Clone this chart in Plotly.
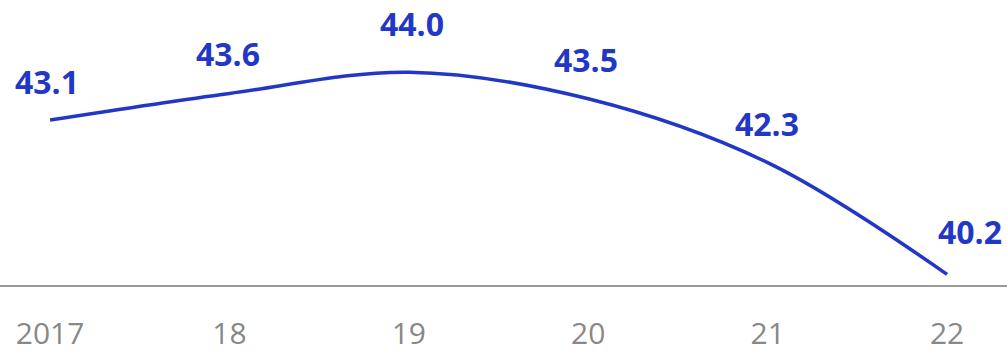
import plotly.graph_objects as go

years = [2017, 2018, 2019, 2020, 2021, 2022]
tick_labels = ["2017", "18", "19", "20", "21", "22"]
values = [43.1, 43.6, 44.0, 43.5, 42.3, 40.2]
label_text = ["43.1", "43.6", "44.0", "43.5", "42.3", "40.2"]

# label placement offsets (pixels) - styling only
label_dx = [-3, -1, 3, -2, -1, 23]
label_dy = [39, 39.5, 49, 39, 39.5, 42.5]

blue = "#2337c6"

fig = go.Figure()
fig.add_trace(go.Scatter(
    x=years, y=values, mode="lines",
    line=dict(color=blue, width=3.5, shape="spline", smoothing=1.0),
    hoverinfo="skip", cliponaxis=False,
))

for x, v, t, dx, dy in zip(years, values, label_text, label_dx, label_dy):
    fig.add_annotation(
        x=x, y=v, text="<b>%s</b>" % t, showarrow=False,
        yshift=dy, xshift=dx,
        font=dict(family="Open Sans", size=32, color=blue),
    )

fig.update_layout(
    width=1007, height=352,
    margin=dict(l=0, r=0, t=0, b=67, autoexpand=False),
    paper_bgcolor="white", plot_bgcolor="white",
    showlegend=False,
    xaxis=dict(
        range=[2016.721, 2022.334],
        tickvals=years, ticktext=tick_labels,
        showgrid=False, zeroline=False, automargin=False,
        showline=True, linecolor="#999999", linewidth=2,
        ticks="", ticklabelstandoff=21,
        tickfont=dict(family="Open Sans", size=30, color="#888888"),
    ),
    yaxis=dict(
        range=[40.0, 45.357], visible=False, showgrid=False, zeroline=False,
        automargin=False,
    ),
)

fig.write_html("out.html")
